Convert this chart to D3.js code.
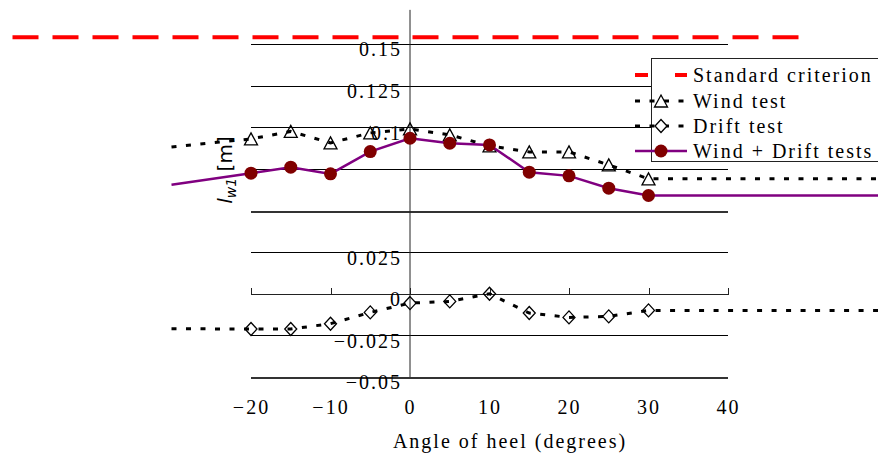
<!DOCTYPE html>
<html>
<head>
<meta charset="utf-8">
<title>Lever arm vs angle of heel</title>
<script src="https://d3js.org/d3.v7.min.js"></script>
<style>
  body { margin: 0; background: #fff; }
  svg { display: block; }
  text { font-family: "Liberation Serif", serif; font-size: 20px; letter-spacing: 2px; fill: #000; }
  .grid line { stroke: #000; stroke-width: 1px; shape-rendering: crispEdges; }
  .grid line.heavy { stroke: #333; stroke-width: 2px; }
  .axis path, .axis line { fill: none; stroke: #222; shape-rendering: crispEdges; }
  .ylabel { font-family: "DejaVu Sans", sans-serif; font-size: 20px; letter-spacing: 0; }
</style>
</head>
<body>
<script>
// heel angle (deg); -30 and 60 are only the ends of the drawn lines
var angles = [-30, -20, -15, -10, -5, 0, 5, 10, 15, 20, 25, 30, 60];
var windTest = [0.0882, 0.0930, 0.0975, 0.0906, 0.0966, 0.0990, 0.0954, 0.0888, 0.0852, 0.0852, 0.0774, 0.0690, 0.0690];
var driftTest = [-0.0210, -0.0212, -0.0212, -0.0180, -0.0112, -0.0056, -0.0046, 0.0000, -0.0116, -0.0142, -0.0136, -0.0100, -0.0100];
var windDrift = [0.0654, 0.0724, 0.0760, 0.0720, 0.0854, 0.0934, 0.0904, 0.0894, 0.0730, 0.0708, 0.0634, 0.0590, 0.0590];
var measuredFrom = -20, measuredTo = 30;
var criterionAngles = [-50, 50];
var criterionValues = [0.154, 0.154];
var xTicks = [-20, -10, 0, 10, 20, 30, 40];
var yTicks = [-0.05, -0.025, 0, 0.025, 0.05, 0.075, 0.1, 0.125, 0.15];
var yTickLabels = ["\u22120.05", "\u22120.025", "0", "0.025", "", "", "0.1", "0.125", "0.15"];
var legendLabels = ["Standard criterion", "Wind test", "Drift test", "Wind + Drift tests"];

var W = 878, H = 455;
var x = d3.scaleLinear().domain([-20, 40]).range([251, 728]);
var y = d3.scaleLinear().domain([-0.05, 0.15]).range([377, 44]);

var svg = d3.select("body").append("svg").attr("width", W).attr("height", H);

// grid
svg.append("g").attr("class", "grid")
  .selectAll("line").data(yTicks).enter().append("line")
  .attr("class", function (d) { return (d === 0.05 || d === -0.05) ? "heavy" : null; })
  .attr("x1", x(-20)).attr("x2", x(40))
  .attr("y1", function (d) { return Math.round(y(d)) + 0.5; })
  .attr("y2", function (d) { return Math.round(y(d)) + 0.5; });

// x ticks on the zero line
svg.append("g").attr("class", "axis")
  .attr("transform", "translate(0," + y(0) + ")")
  .call(d3.axisTop(x).tickValues(xTicks).tickSize(6).tickFormat(""));

// x labels under the plot
var xl = svg.append("g").attr("class", "axis")
  .attr("transform", "translate(0," + y(-0.05) + ")")
  .call(d3.axisBottom(x).tickValues(xTicks).tickSize(0).tickPadding(23));
xl.select(".domain").remove();
xl.selectAll("text").attr("fill", "#000").style("font-size", "20px").style("font-family", "Liberation Serif");

// y axis
svg.append("line")
  .attr("x1", x(0)).attr("x2", x(0))
  .attr("y1", y(0.1705)).attr("y2", y(-0.05))
  .attr("stroke", "#222").attr("stroke-width", 1);
var yl = svg.append("g").attr("class", "axis")
  .attr("transform", "translate(" + x(0) + ",0)")
  .call(d3.axisLeft(y).tickValues(yTicks).tickSize(0).tickPadding(8)
    .tickFormat(function (d, i) { return yTickLabels[i]; }));
yl.select(".domain").remove();
yl.selectAll("text").attr("y", 5.5).attr("fill", "#000").style("font-size", "20px").style("font-family", "Liberation Serif");

// titles
svg.append("text").attr("x", 510).attr("y", 448).attr("text-anchor", "middle")
  .text("Angle of heel (degrees)");
var yt = svg.append("text").attr("class", "ylabel")
  .attr("transform", "translate(232,170) rotate(-90)")
  .attr("text-anchor", "middle");
yt.append("tspan").attr("font-style", "italic").text("l");
yt.append("tspan").attr("font-style", "italic").attr("font-size", "14px").attr("dy", 4).text("w1");
yt.append("tspan").attr("dy", -4).text(" [m]");

// series
function rows(vals) {
  return angles.map(function (a, i) { return { a: a, v: vals[i] }; });
}
function measured(vals) {
  return rows(vals).filter(function (d) { return d.a >= measuredFrom && d.a <= measuredTo; });
}
var line = d3.line().x(function (d) { return x(d.a); }).y(function (d) { return y(d.v); });

var triPath = "M0,-6L6.5,6L-6.5,6Z";
var diaPath = "M0,-6.5L6,0L0,6.5L-6,0Z";

// standard criterion
svg.append("path")
  .attr("d", line(criterionAngles.map(function (a, i) { return { a: a, v: criterionValues[i] }; })))
  .attr("fill", "none").attr("stroke", "#ff0000").attr("stroke-width", 4)
  .attr("stroke-dasharray", "26,14");

// wind test
svg.append("path").attr("d", line(rows(windTest)))
  .attr("fill", "none").attr("stroke", "#000").attr("stroke-width", 3)
  .attr("stroke-dasharray", "5,9.5");
svg.append("g").selectAll("path").data(measured(windTest)).enter().append("path")
  .attr("d", triPath)
  .attr("transform", function (d) { return "translate(" + x(d.a) + "," + y(d.v) + ")"; })
  .attr("fill", "none").attr("stroke", "#000").attr("stroke-width", 1.3);

// drift test
svg.append("path").attr("d", line(rows(driftTest)))
  .attr("fill", "none").attr("stroke", "#000").attr("stroke-width", 3)
  .attr("stroke-dasharray", "5,9.5");
svg.append("g").selectAll("path").data(measured(driftTest)).enter().append("path")
  .attr("d", diaPath)
  .attr("transform", function (d) { return "translate(" + x(d.a) + "," + y(d.v) + ")"; })
  .attr("fill", "none").attr("stroke", "#000").attr("stroke-width", 1.3);

// wind + drift
svg.append("path").attr("d", line(rows(windDrift)))
  .attr("fill", "none").attr("stroke", "#800080").attr("stroke-width", 2.5);
svg.append("g").selectAll("circle").data(measured(windDrift)).enter().append("circle")
  .attr("cx", function (d) { return x(d.a); })
  .attr("cy", function (d) { return y(d.v); })
  .attr("r", 6.5).attr("fill", "#800000");

// legend
var lg = svg.append("g");
lg.append("rect").attr("x", 651.5).attr("y", 58.5).attr("width", 240).attr("height", 103)
  .attr("fill", "#fff").attr("stroke", "#222");
var rowY = [75, 101, 126, 151];
legendLabels.forEach(function (lab, i) {
  var ry = rowY[i];
  var h = lg.append("line").attr("x1", 635).attr("x2", 687).attr("y1", ry).attr("y2", ry);
  if (i === 0) h.attr("stroke", "#ff0000").attr("stroke-width", 4).attr("stroke-dasharray", "13,27");
  else if (i === 3) h.attr("stroke", "#800080").attr("stroke-width", 2.5);
  else h.attr("stroke", "#000").attr("stroke-width", 3).attr("stroke-dasharray", "5,9.5");
  if (i === 1 || i === 2) {
    lg.append("path").attr("d", i === 1 ? triPath : diaPath)
      .attr("transform", "translate(661," + ry + ")")
      .attr("fill", "#fff").attr("stroke", "#000").attr("stroke-width", 1.3);
  }
  if (i === 3) lg.append("circle").attr("cx", 661).attr("cy", ry).attr("r", 6.5).attr("fill", "#800000");
  lg.append("text").attr("x", 693).attr("y", ry).attr("dy", "0.35em").text(lab);
});
</script>
</body>
</html>
